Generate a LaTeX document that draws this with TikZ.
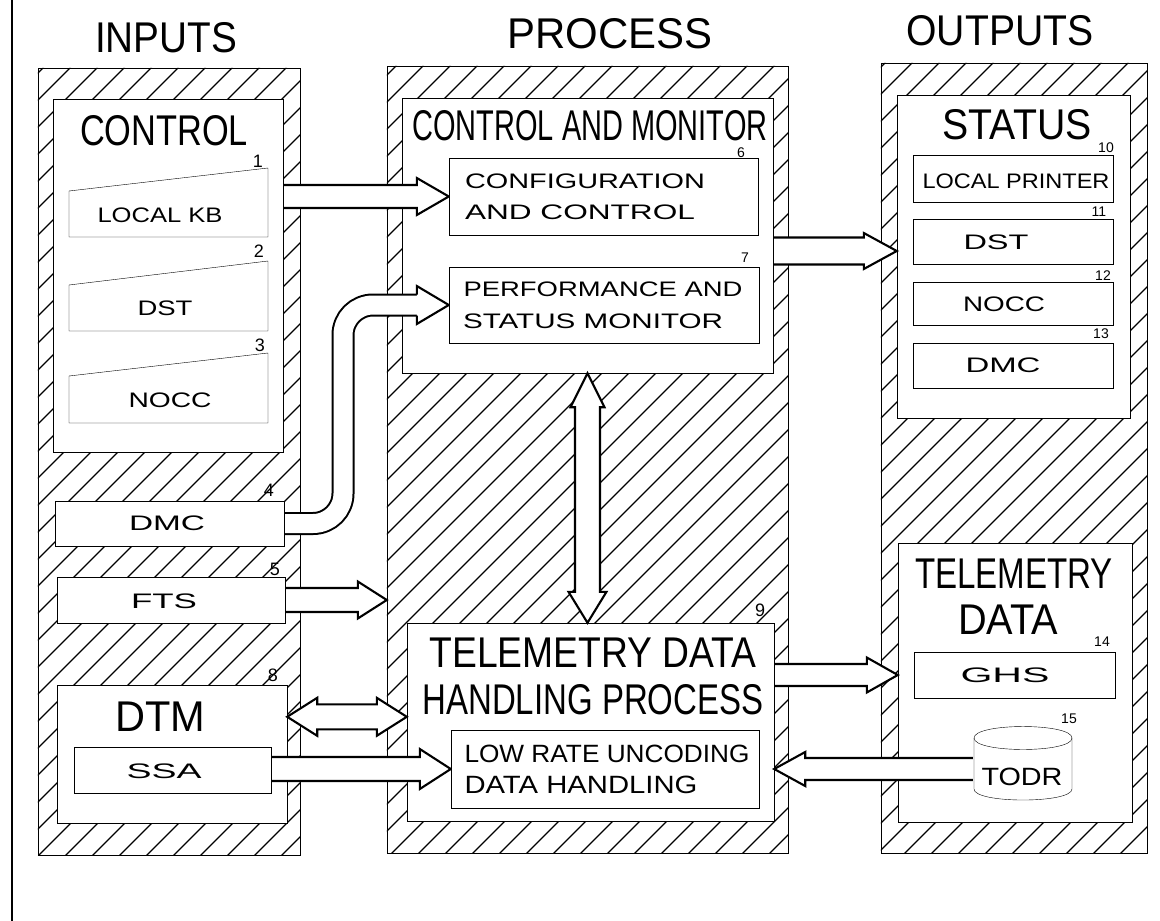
\documentclass[tikz,border=0pt]{standalone}
\usepackage{fontspec}
\setmainfont{Liberation Sans}
\usepackage{graphicx}
\usetikzlibrary{calc}
\pgfdeclarelayer{hatch}
\pgfdeclarelayer{big}
\pgfdeclarelayer{arrows}
\pgfsetlayers{hatch,big,arrows,main}

% set a text line and stretch it horizontally to a given width (pt)
\newlength\fitnat
\newcommand\fitw[2]{\settowidth\fitnat{#2}\pgfmathsetmacro\fitsc{#1/\fitnat}\scalebox{\fitsc}[1]{#2}}

% open-backed block arrow head: tip, direction, head half-width, head length, shaft half-width
\newcommand\ahead[5]{%
  \begin{scope}[shift={(#1)},rotate=#2]
    \fill[white] (0,0) -- (-#4,#3) -- (-#4,-#3) -- cycle;
    \draw[arrowline] (-#4,#5) -- (-#4,#3) -- (0,0) -- (-#4,-#3) -- (-#4,-#5);
  \end{scope}}

% horizontal block arrow: tail, tip, shaft half-width, head half-width, head length
\newcommand\harrow[5]{%
  \filldraw[fill=white,arrowline]
    let \p1=(#1), \p2=(#2), \n1={sign(\x2-\x1)} in
    (\x1+\n1*0.9,\y2+#3) -- (\x2-\n1*#5,\y2+#3) -- (\x2-\n1*#5,\y2+#4) -- (\p2)
    -- (\x2-\n1*#5,\y2-#4) -- (\x2-\n1*#5,\y2-#3) -- (\x1+\n1*0.9,\y2-#3);}

% horizontal two-headed block arrow: end, end, shaft half-width, head half-width, head length
\newcommand\hdarrow[5]{%
  \filldraw[fill=white,arrowline]
    let \p1=(#1), \p2=(#2), \n1={sign(\x2-\x1)} in
    (\p1) -- (\x1+\n1*#5,\y1+#4) -- (\x1+\n1*#5,\y1+#3) -- (\x2-\n1*#5,\y1+#3)
    -- (\x2-\n1*#5,\y1+#4) -- (\x2,\y1) -- (\x2-\n1*#5,\y1-#4) -- (\x2-\n1*#5,\y1-#3)
    -- (\x1+\n1*#5,\y1-#3) -- (\x1+\n1*#5,\y1-#4) -- cycle;}

% vertical two-headed block arrow: end a, end b, shaft half-width,
% head half-width and length at a, head half-width and length at b
\newcommand\vdarrow[7]{%
  \filldraw[fill=white,arrowline]
    let \p1=(#1), \p2=(#2), \n1={sign(\y2-\y1)} in
    (\p1) -- (\x1+#4,\y1+\n1*#5) -- (\x1+#3,\y1+\n1*#5) -- (\x1+#3,\y2-\n1*#7)
    -- (\x1+#6,\y2-\n1*#7) -- (\x1,\y2) -- (\x1-#6,\y2-\n1*#7) -- (\x1-#3,\y2-\n1*#7)
    -- (\x1-#3,\y1+\n1*#5) -- (\x1-#4,\y1+\n1*#5) -- cycle;}

\begin{document}
\begin{tikzpicture}[x=1pt,y=-1pt,line width=1.8pt,
  box/.style={draw,fill=white,inner sep=0pt},
  hatchline/.style={line width=1.2pt},
  arrowline/.style={line width=2.1pt,line join=miter},
  big/.style={inner sep=0pt,font=\fontsize{43}{46}\selectfont},
  mid/.style={inner sep=0pt,font=\fontsize{25}{28}\selectfont},
  small/.style={inner sep=0pt,font=\fontsize{21}{24}\selectfont},
  num/.style={inner sep=0pt,font=\fontsize{18}{20}\selectfont},
  tnum/.style={inner sep=0pt,font=\fontsize{14}{16}\selectfont},
  shaft/.style={double=white,double distance=#1}]
\useasboundingbox (0,0) rectangle (1160,921);

% margin rule
\coordinate (rule-top) at (12,0);
\coordinate (rule-bot) at (12,921);
\draw (rule-top) -- (rule-bot);

% ---------- hatched column frames ----------
\begin{pgfonlayer}{hatch}
  \node[box,fill=none,minimum width=262,minimum height=787] (inp)  at (169,461.5) {};
  \node[box,fill=none,minimum width=401,minimum height=787] (proc) at (587.5,459.5) {};
  \node[box,fill=none,minimum width=266,minimum height=790] (outp) at (1014,458) {};
  \begin{scope}
    \clip (inp.north west) rectangle (inp.south east)
          (proc.north west) rectangle (proc.south east)
          (outp.north west) rectangle (outp.south east);
    \foreach \k in {-36,...,44}
      \draw[hatchline] (\k*27,921) -- ++(921,-921);
  \end{scope}
\end{pgfonlayer}

% ---------- large blocks ----------
\begin{pgfonlayer}{big}
  \node[box,minimum width=230,minimum height=353] (ctl)  at (168,275.5) {};
  \node[box,minimum width=230,minimum height=138] (dtm)  at (172,754) {};
  \node[box,minimum width=371,minimum height=275] (cm)   at (587.5,235.5) {};
  \node[box,minimum width=367,minimum height=198] (tdp)  at (590.5,722) {};
  \node[box,minimum width=233,minimum height=323] (stat) at (1013.5,256.5) {};
  \node[box,minimum width=234,minimum height=279] (td)   at (1015,682.5) {};
\end{pgfonlayer}

% ---------- small blocks ----------
\node[box,minimum width=229,minimum height=45] (dmc)   at (169.5,523.5) {};
\node[box,minimum width=228,minimum height=46] (fts)   at (171,600) {};
\node[box,minimum width=197,minimum height=46] (ssa)   at (172.5,770) {};
\node[box,minimum width=309,minimum height=77] (cfg)   at (603.5,196.5) {};
\node[box,minimum width=310,minimum height=76] (perf)  at (604,305) {};
\node[box,minimum width=308,minimum height=78] (low)   at (605,769) {};
\node[box,minimum width=200,minimum height=47] (lp)    at (1013,178.5) {};
\node[box,minimum width=200,minimum height=45] (dst2)  at (1013,241.5) {};
\node[box,minimum width=200,minimum height=43] (nocc2) at (1013,303.5) {};
\node[box,minimum width=200,minimum height=45] (dmc2)  at (1013,365.5) {};
\node[box,minimum width=201,minimum height=46] (ghs)   at (1014.5,675) {};

% keyboard-style input consoles
\draw[fill=white] (69,191) -- (268,168) -- (268,237) -- (69,237) -- cycle;
\draw[fill=white] (69,285) -- (268,261) -- (268,331) -- (69,331) -- cycle;
\draw[fill=white] (69,376) -- (268,353) -- (268,423) -- (69,423) -- cycle;

% tape recorder drum
\node[inner sep=0pt,minimum width=98,minimum height=62] (todr) at (1023,769) {};
\filldraw[fill=white] (974,738) -- (974,789)
  .. controls (974,803.7) and (1072,803.7) .. (1072,789) -- (1072,738)
  .. controls (1072,722.7) and (974,722.7) .. (974,738) -- cycle;
\draw (974,738) .. controls (974,753.3) and (1072,753.3) .. (1072,738);

% ---------- block arrows ----------
\coordinate (bend)  at (343,0);
\coordinate (dtmio) at ($(dtm.north east)+(0,32)$);
\coordinate (cmout) at ($(cfg.south)!0.5!(perf.north)$);
\begin{pgfonlayer}{arrows}
  % local keyboard -> configuration and control
  \harrow{ctl.east |- cfg.west}{cfg.west}{11.5}{18.5}{32}
  % DMC -> performance and status monitor
  \draw[shaft=19,line width=2pt,rounded corners=30pt]
    (dmc.east) -| (bend |- perf.west) -- ($(perf.west)+(-32,0)$);
  \ahead{perf.west}{0}{19}{32}{10.5}
  % FTS -> process
  \harrow{fts.east}{proc.west |- fts.east}{12}{18.5}{29}
  % DTM <-> telemetry data handling
  \hdarrow{dtmio}{tdp.west |- dtmio}{12.5}{19}{30}
  % SSA -> low rate handling
  \harrow{ssa.east}{low.west}{12}{20}{31}
  % control and monitor <-> telemetry data handling
  \vdarrow{cm.south}{cm.south |- tdp.north}{12.5}{17}{34}{19}{31}
  % control and monitor -> status
  \harrow{cm.east |- cmout}{stat.west |- cmout}{13.5}{18}{33}
  % telemetry data handling -> telemetry data
  \harrow{tdp.east |- ghs.west}{td.west |- ghs.west}{11}{17.5}{31}
  % TODR -> telemetry data handling
  \harrow{todr.west}{tdp.east |- todr.west}{11}{17}{31}
\end{pgfonlayer}

% ---------- column headings ----------
\node[big] (t-inputs)  at (166,38)  {\fitw{142}{INPUTS}};
\node[big] (t-process) at (610,34)  {\fitw{205}{PROCESS}};
\node[big] (t-outputs) at (1000,31) {\fitw{187}{OUTPUTS}};

% ---------- inputs ----------
\node[big]   (t-control) at (164,131) {\fitw{168}{CONTROL}};
\node[small] (t-kb)      at (160,215) {\fitw{125}{LOCAL KB}};
\node[small] (t-dst)     at (165,308) {\fitw{55}{DST}};
\node[small] (t-nocc)    at (170,400) {\fitw{83}{NOCC}};
\node[small] (t-dmc)     at (167,523) {\fitw{76}{DMC}};
\node[small] (t-fts)     at (164,601) {\fitw{66}{FTS}};
\node[big]   (t-dtm)     at (160,717) {\fitw{90}{DTM}};
\node[small] (t-ssa)     at (164,771) {\fitw{75}{SSA}};

% ---------- process ----------
\node[big]   (t-cm)    at (590,126) {\fitw{355}{CONTROL AND MONITOR}};
\node[small] (t-cfg1)  at (585,181) {\fitw{240}{CONFIGURATION}};
\node[small] (t-cfg2)  at (580,212) {\fitw{230}{AND CONTROL}};
\node[small] (t-perf1) at (603,289) {\fitw{279}{PERFORMANCE AND}};
\node[small] (t-perf2) at (593,321) {\fitw{260}{STATUS MONITOR}};
\node[big]   (t-tdp1)  at (593,653) {\fitw{327}{TELEMETRY DATA}};
\node[big]   (t-tdp2)  at (593,700) {\fitw{341}{HANDLING PROCESS}};
\node[mid]   (t-low1)  at (607,754) {\fitw{285}{LOW RATE UNCODING}};
\node[mid]   (t-low2)  at (581,785) {\fitw{233}{DATA HANDLING}};

% ---------- outputs ----------
\node[big]   (t-stat)  at (1017,125) {\fitw{149}{STATUS}};
\node[small] (t-lp)    at (1016,181) {\fitw{187}{LOCAL PRINTER}};
\node[small] (t-dst2)  at (996,242)  {\fitw{65}{DST}};
\node[small] (t-nocc2) at (1004,304) {\fitw{82}{NOCC}};
\node[small] (t-dmc2)  at (1003,365) {\fitw{75}{DMC}};
\node[big]   (t-td1)   at (1014,574) {\fitw{198}{TELEMETRY}};
\node[big]   (t-td2)   at (1008,620) {\fitw{100}{DATA}};
\node[small] (t-ghs)   at (1005,675) {\fitw{89}{GHS}};
\node[mid]   (t-todr)  at (1022,777) {\fitw{81}{TODR}};

% ---------- reference numbers ----------
\node[num]  (n1)  at (258,161)  {1};
\node[num]  (n2)  at (259,251)  {2};
\node[num]  (n3)  at (260,345)  {3};
\node[num]  (n4)  at (269,490)  {4};
\node[num]  (n5)  at (275,569)  {5};
\node[tnum] (n6)  at (741,153)  {6};
\node[tnum] (n7)  at (745,258)  {7};
\node[num]  (n8)  at (273,675)  {8};
\node[num]  (n9)  at (760,610)  {9};
\node[tnum] (n10) at (1106,148) {10};
\node[tnum] (n11) at (1099,212) {11};
\node[tnum] (n12) at (1103,276) {12};
\node[tnum] (n13) at (1101,334) {13};
\node[tnum] (n14) at (1102,642) {14};
\node[tnum] (n15) at (1069,719) {15};
\end{tikzpicture}
\end{document}
